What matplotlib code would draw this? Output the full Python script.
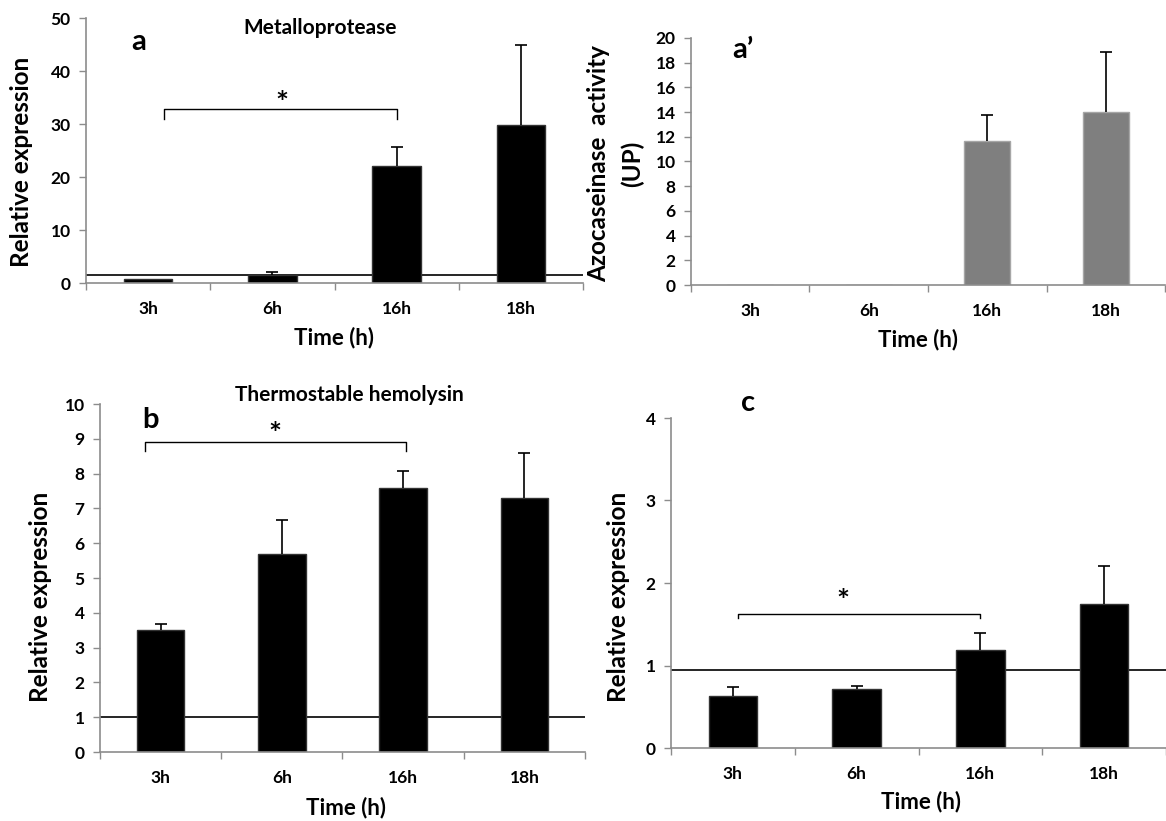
import matplotlib
matplotlib.use("Agg")
import matplotlib.pyplot as plt
import numpy as np

plt.rcParams['font.family'] = ['Lato', 'DejaVu Sans']
plt.rcParams['font.weight'] = 'bold'

W, H = 1166, 821

times = ["3h", "6h", "16h", "18h"]

# Metalloprotease relative expression (panel a)
metallo_mean = [0.7, 1.6, 22.0, 29.8]
metallo_err = [0.0, 0.5, 3.7, 15.2]
metallo_ref = 1.6

# Azocaseinase activity (panel a')
azo_mean = [0.0, 0.0, 11.7, 14.0]
azo_err = [0.0, 0.0, 2.1, 4.9]

# Thermostable hemolysin relative expression (panel b)
hemo_mean = [3.5, 5.7, 7.6, 7.3]
hemo_err = [0.17, 0.97, 0.47, 1.3]
hemo_ref = 1.0

# Panel c relative expression
c_mean = [0.63, 0.72, 1.19, 1.74]
c_err = [0.11, 0.03, 0.21, 0.47]
c_ref = 0.94

AXIS_GRAY = '#8c8c8c'


def px_rect(l, r, b, t):
    return [l / W, 1 - b / H, (r - l) / W, (b - t) / H]


def style_axes(ax, ymax, ystep):
    ax.set_xlim(-0.5, 3.5)
    ax.set_ylim(0, ymax)
    ax.set_yticks(np.arange(0, ymax + ystep / 2, ystep))
    ax.set_xticks(range(len(times)))
    ax.set_xticklabels(times)
    ax.set_xticks(np.arange(-0.5, 3.6, 1.0), minor=True)
    ax.tick_params(axis='x', which='major', length=0, pad=13, labelsize=12.5)
    ax.tick_params(axis='x', which='minor', length=5, width=1, color=AXIS_GRAY, direction='out')
    ax.tick_params(axis='y', length=5, width=1, color=AXIS_GRAY, direction='out', labelsize=12.5, pad=6)
    for lbl in ax.get_xticklabels() + ax.get_yticklabels():
        lbl.set_fontweight('bold')
    for s in ('top', 'right'):
        ax.spines[s].set_visible(False)
    for s in ('left', 'bottom'):
        ax.spines[s].set_color(AXIS_GRAY)
        ax.spines[s].set_linewidth(1.2)
    ax.spines['bottom'].set_clip_on(False)


def bars(ax, mean, err, color, edge):
    x = np.arange(len(mean))
    ax.bar(x, mean, width=0.39, color=color, edgecolor=edge, linewidth=1.0, zorder=2)
    e = np.array(err)
    lower = np.zeros_like(e)
    mask = e > 0
    _, caps, _ = ax.errorbar(x[mask], np.array(mean)[mask], yerr=[lower[mask], e[mask]],
                             fmt='none', ecolor='black', elinewidth=1.2, capsize=4,
                             capthick=1.2, zorder=3)
    # only the upper whisker carries a cap
    caps[0].set_visible(False)


def bracket(ax, x0, x1, y, y_leg, star_x, star_y):
    ax.plot([x0, x0, x1, x1], [y_leg, y, y, y_leg], color='black', lw=1.0, zorder=3,
            clip_on=False)
    ax.text(star_x, star_y, '*', ha='center', va='center', fontsize=22, fontweight='bold')


def ftext(x, y, s, **kw):
    fig.text(x / W, 1 - y / H, s, ha='center', va='center', **kw)


fig = plt.figure(figsize=(W / 100, H / 100), dpi=100)

# Panel a
ax_a = fig.add_axes(px_rect(86, 583, 283, 18))
bars(ax_a, metallo_mean, metallo_err, 'black', '#333333')
ax_a.axhline(metallo_ref, color='black', lw=1.2, zorder=1)
style_axes(ax_a, 50, 10)
bracket(ax_a, 0.13, 2.0, 32.8, 31.0, 1.08, 33.8)
ftext(139, 42, 'a', fontsize=21, fontweight='bold')
ftext(320, 28, 'Metalloprotease', fontsize=15, fontweight='bold')
ftext(22, 162, 'Relative expression', fontsize=17.5, fontweight='bold', rotation=90)
ftext(334, 338, 'Time (h)', fontsize=16, fontweight='bold')

# Panel a'
ax_ap = fig.add_axes(px_rect(691, 1165, 285, 38))
bars(ax_ap, azo_mean, azo_err, '#7f7f7f', '#a6a6a6')
style_axes(ax_ap, 20, 2)
ftext(743, 50, 'a\u2019', fontsize=21, fontweight='bold')
ftext(616, 164, 'Azocaseinase  activity\n(UP)', fontsize=17.5, fontweight='bold', rotation=90,
      linespacing=1.55)
ftext(918, 340, 'Time (h)', fontsize=16, fontweight='bold')

# Panel b
ax_b = fig.add_axes(px_rect(100, 585, 752, 404))
bars(ax_b, hemo_mean, hemo_err, 'black', '#333333')
ax_b.axhline(hemo_ref, color='black', lw=1.2, zorder=1)
style_axes(ax_b, 10, 1)
bracket(ax_b, -0.13, 2.02, 8.92, 8.66, 0.94, 9.1)
ftext(150, 420, 'b', fontsize=21, fontweight='bold')
ftext(349, 395, 'Thermostable hemolysin', fontsize=15, fontweight='bold')
ftext(41, 597, 'Relative expression', fontsize=17.5, fontweight='bold', rotation=90)
ftext(346, 808, 'Time (h)', fontsize=16, fontweight='bold')

# Panel c
ax_c = fig.add_axes(px_rect(671, 1166, 748, 418))
bars(ax_c, c_mean, c_err, 'black', '#333333')
ax_c.axhline(c_ref, color='black', lw=1.2, zorder=1)
style_axes(ax_c, 4, 1)
bracket(ax_c, 0.04, 2.0, 1.63, 1.57, 0.89, 1.77)
ftext(748, 403, 'c', fontsize=21, fontweight='bold')
ftext(618, 597, 'Relative expression', fontsize=17.5, fontweight='bold', rotation=90)
ftext(921, 802, 'Time (h)', fontsize=16, fontweight='bold')

fig.savefig('out.png', dpi=100, facecolor='white')
